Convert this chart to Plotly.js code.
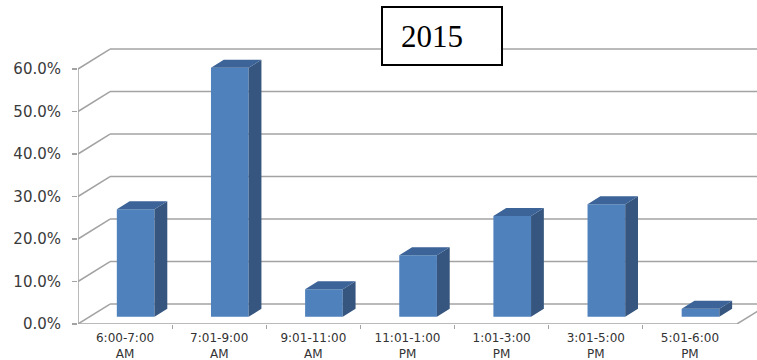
<!DOCTYPE html>
<html>
<head>
<meta charset="utf-8">
<script src="https://cdn.plot.ly/plotly-3.0.1.min.js"></script>
<style>
  html, body { margin: 0; padding: 0; background: #ffffff; }
  #chart { width: 757px; height: 360px; }
</style>
</head>
<body>
<div id="chart"></div>
<script>
// Share of trips by departure time window, 2015
const categories = [
  '6:00-7:00<br>AM',
  '7:01-9:00<br>AM',
  '9:01-11:00<br>AM',
  '11:01-1:00<br>PM',
  '1:01-3:00<br>PM',
  '3:01-5:00<br>PM',
  '5:01-6:00<br>PM'
];
const shares = [25.3, 58.6, 6.5, 14.5, 23.7, 26.5, 1.9];
const yTicks = [0, 10, 20, 30, 40, 50, 60];
const yTickText = yTicks.map(v => v.toFixed(1) + '%');

// Oblique projection used for the 3-D look: depth d in [0,1] shifts a point
// right by d*DEPTH_X (category units) and up by d*DEPTH_Y (percent units).
const DEPTH_X = 0.34;
const DEPTH_Y = 4.7;
const BAR_LEFT = 0.29;   // front-left corner inside its category slot
const BAR_W = 0.40;      // bar width in category units
const BAR_D0 = 0.36;     // depth of bar front face
const BAR_D1 = 0.76;     // depth of bar back face

const nCat = categories.length;
const GRID = '#a3a3a3';
const FRONT = '#4f81bd', SIDE = '#36567f', TOP = '#3c6498';

// walls and floor of the 3-D box, drawn beneath the bars
const shapes = [];
const gridLine = (x0, y0, x1, y1) => shapes.push({
  type: 'line', xref: 'x', yref: 'y', layer: 'below',
  x0, y0, x1, y1, line: { color: GRID, width: 1.5 }
});
yTicks.forEach(v => {
  gridLine(DEPTH_X, v + DEPTH_Y, nCat + 1, v + DEPTH_Y); // back wall
  gridLine(0, v, DEPTH_X, v + DEPTH_Y);                 // left wall
});
gridLine(0, 0, nCat, 0);                                // floor front edge
gridLine(nCat, 0, nCat + DEPTH_X, DEPTH_Y);             // floor right edge
gridLine(0, 0, 0, yTicks[yTicks.length - 1]);           // value axis

// title frame
shapes.push({
  type: 'rect', xref: 'paper', yref: 'paper', layer: 'above',
  x0: (382 - 78) / 679, x1: (502 - 78) / 679,
  y0: (324 - 65) / 324, y1: (324 - 7) / 324,
  fillcolor: '#ffffff', line: { color: '#000000', width: 2 }
});

const traces = [];

// bar fronts
const frontX = shares.map((v, i) => i + BAR_LEFT + BAR_D0 * DEPTH_X + BAR_W / 2);
traces.push({
  type: 'bar', x: frontX, y: shares, base: shares.map(() => BAR_D0 * DEPTH_Y),
  width: BAR_W, marker: { color: FRONT, line: { width: 0 } },
  hoverinfo: 'skip', showlegend: false
});

// bar sides and tops
const ddx = (BAR_D1 - BAR_D0) * DEPTH_X, ddy = (BAR_D1 - BAR_D0) * DEPTH_Y;
const sx = [], sy = [], tx = [], ty = [];
shares.forEach((v, i) => {
  const xl = i + BAR_LEFT + BAR_D0 * DEPTH_X;
  const xr = xl + BAR_W;
  const b = BAR_D0 * DEPTH_Y;
  sx.push(xr, xr + ddx, xr + ddx, xr, xr, null);
  sy.push(b, b + ddy, b + ddy + v, b + v, b, null);
  tx.push(xl, xr, xr + ddx, xl + ddx, xl, null);
  ty.push(b + v, b + v, b + v + ddy, b + v + ddy, b + v, null);
});
traces.push({
  type: 'scatter', mode: 'lines', x: sx, y: sy, fill: 'toself', fillcolor: SIDE,
  line: { width: 0, color: SIDE }, hoverinfo: 'skip', showlegend: false
});
traces.push({
  type: 'scatter', mode: 'lines', x: tx, y: ty, fill: 'toself', fillcolor: TOP,
  line: { width: 0, color: TOP }, hoverinfo: 'skip', showlegend: false
});

const PX_PER_CAT = 659 / 7;
const PX_PER_PCT = 4.25;

const layout = {
  width: 757, height: 360,
  margin: { l: 78, r: 0, t: 0, b: 36, pad: 0 },
  paper_bgcolor: '#ffffff', plot_bgcolor: '#ffffff',
  showlegend: false,
  title: {
    text: '2015',
    font: { family: 'Liberation Serif, Times New Roman, serif', size: 31, color: '#000000' },
    xref: 'container', yref: 'container',
    x: 432 / 757, xanchor: 'center',
    y: 1 - 36 / 360, yanchor: 'middle'
  },
  xaxis: {
    range: [0, 679 / PX_PER_CAT],
    showgrid: false, zeroline: false, showline: false,
    tickmode: 'array',
    tickvals: categories.map((c, i) => i + 0.5),
    ticktext: categories,
    ticks: '',
    ticklabelstandoff: 5,
    tickfont: { family: 'DejaVu Sans, sans-serif', size: 12, color: '#333333' },
    minor: {
      tickmode: 'array', tickvals: [1, 2, 3, 4, 5, 6],
      ticks: 'outside', ticklen: 4, tickwidth: 1, tickcolor: GRID, showgrid: false
    },
    fixedrange: true
  },
  yaxis: {
    range: [0, 324 / PX_PER_PCT],
    showgrid: false, zeroline: false, showline: false,
    tickmode: 'array', tickvals: yTicks, ticktext: yTickText,
    ticks: 'outside', ticklen: 5, tickwidth: 1.5, tickcolor: GRID,
    ticklabelstandoff: 8,
    tickfont: { family: 'DejaVu Sans, sans-serif', size: 15, color: '#3a3a3a' },
    fixedrange: true
  },
  shapes: shapes
};

Plotly.newPlot('chart', traces, layout, { displayModeBar: false, staticPlot: true });
</script>
</body>
</html>
